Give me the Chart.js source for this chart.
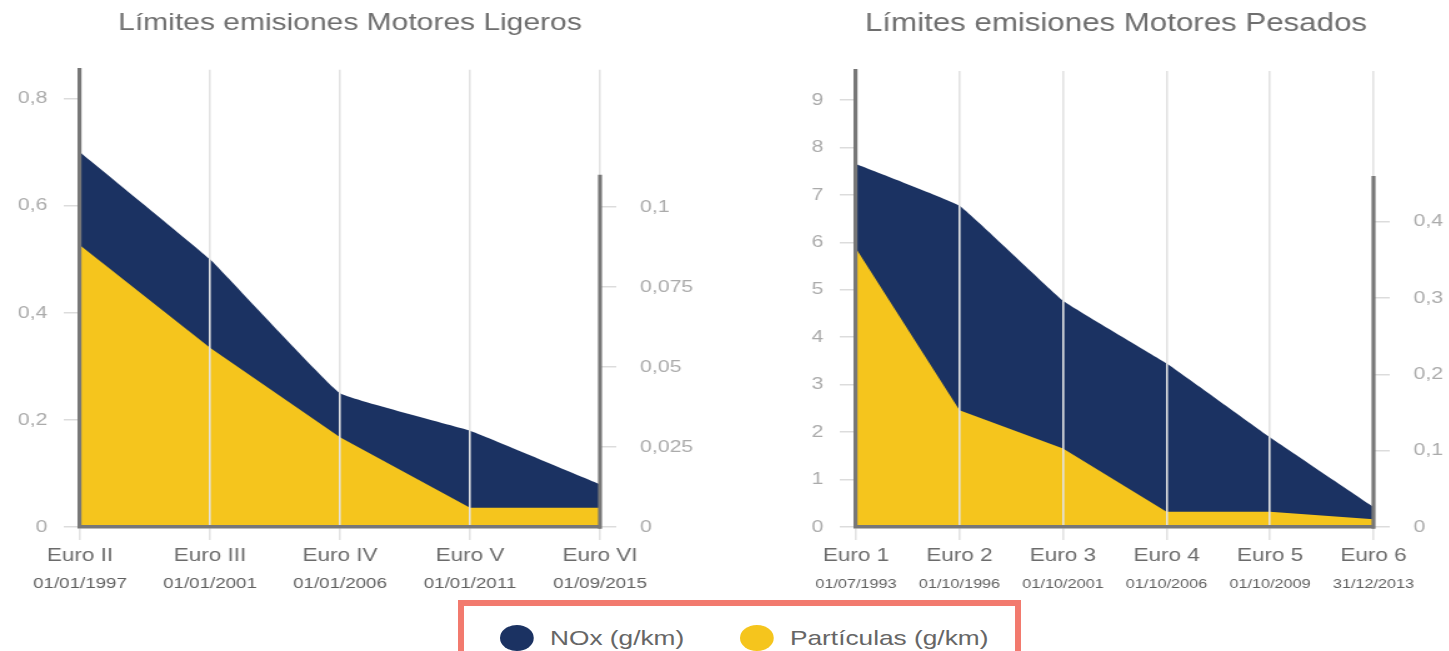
<!DOCTYPE html>
<html lang="es">
<head>
<meta charset="utf-8">
<title>Límites de emisiones</title>
<script src="https://cdn.jsdelivr.net/npm/chart.js@4.4.1/dist/chart.umd.min.js"></script>
<style>
  html, body { margin: 0; background: #fff; }
  body { position: relative; width: 1449px; height: 651px; overflow: hidden; font-family: "Liberation Sans", Arial, sans-serif; }
  canvas { position: absolute; top: 0; }
  .leyenda { position: absolute; left: 458px; top: 600px; width: 551px; height: 80px;
             border: 6px solid #f27a6e; border-bottom: none; }
  .item { position: absolute; top: 19px; display: flex; align-items: center; color: #666;
          font-size: 21px; white-space: nowrap; transform: scaleX(1.25); transform-origin: left center; }
  .punto { width: 27px; height: 26px; border-radius: 50%; margin-right: 13px; }
</style>
</head>
<body>
<!-- canvases are drawn narrow and widened by CSS (wide lettering) -->
<canvas id="ligeros" width="560" height="600" style="left:0;width:700px;height:600px"></canvas>
<canvas id="pesados" width="536" height="600" style="left:781px;width:670px;height:600px"></canvas>
<div class="leyenda">
  <div class="item" style="left:36px"><span class="punto" style="background:#1b3262"></span>NOx (g/km)</div>
  <div class="item" style="left:276px"><span class="punto" style="background:#f5c51d"></span>Partículas (g/km)</div>
</div>
<script>
// Turismos (motores ligeros)
const ligerosCats = ['Euro II', 'Euro III', 'Euro IV', 'Euro V', 'Euro VI'];
const ligerosFechas = ['01/01/1997', '01/01/2001', '01/01/2006', '01/01/2011', '01/09/2015'];
const ligerosNox = [0.70, 0.50, 0.25, 0.18, 0.08];
const ligerosParticulas = [0.088, 0.056, 0.028, 0.006, 0.006];

// Camiones (motores pesados)
const pesadosCats = ['Euro 1', 'Euro 2', 'Euro 3', 'Euro 4', 'Euro 5', 'Euro 6'];
const pesadosFechas = ['01/07/1993', '01/10/1996', '01/10/2001', '01/10/2006', '01/10/2009', '31/12/2013'];
const pesadosNox = [7.65, 6.77, 4.77, 3.45, 1.89, 0.42];
const pesadosParticulas = [0.365, 0.153, 0.103, 0.02, 0.02, 0.01];

const AZUL = '#1b3262';
const AMARILLO = '#f5c51d';
const EJE = '#777777';
const FUENTE = '"Liberation Sans", Arial, sans-serif';

function coma(v) {
    return String(+Number(v).toFixed(3)).replace('.', ',');
}

/*
 Right axis line (shorter than the chart area) and the dates under each label
*/
const extras = {
    id: 'extras',
    afterDraw(chart, args, opts) {
        const { ctx, chartArea, scales } = chart;
        ctx.save();
        ctx.strokeStyle = EJE;
        ctx.lineWidth = 3.2;
        ctx.beginPath();
        ctx.moveTo(chartArea.right, scales.y2.getPixelForValue(0) + 1.75);
        ctx.lineTo(chartArea.right, scales.y2.getPixelForValue(opts.tope));
        ctx.stroke();

        ctx.fillStyle = '#5f5f5f';
        ctx.font = opts.tamFecha + 'px ' + FUENTE;
        ctx.textAlign = 'center';
        ctx.textBaseline = 'alphabetic';
        opts.fechas.forEach((f, i) => {
            ctx.fillText(f, scales.x.getPixelForTick(i), chartArea.bottom + 61);
        });
        ctx.restore();
    }
};

function grafico(id, o) {
    const tickFont = { family: FUENTE, size: 17 };
    return new Chart(document.getElementById(id), {
        type: 'line',
        data: {
            labels: o.cats,
            datasets: [
                {
                    label: 'Partículas (g/km)',
                    data: o.particulas,
                    yAxisID: 'y2',
                    backgroundColor: AMARILLO,
                    borderColor: 'rgba(0,0,0,0)',
                    tension: 0,
                    fill: 'origin'
                },
                {
                    label: 'NOx (g/km)',
                    data: o.nox,
                    yAxisID: 'y',
                    backgroundColor: AZUL,
                    borderColor: 'rgba(0,0,0,0)',
                    tension: 0.08,
                    fill: 'origin'
                }
            ]
        },
        options: {
            responsive: false,
            animation: false,
            events: [],
            layout: { padding: 0 },
            elements: {
                point: { radius: 0 },
                line: { borderWidth: 0 }
            },
            plugins: {
                legend: { display: false },
                tooltip: { enabled: false },
                title: {
                    display: true,
                    text: o.titulo,
                    color: '#6e6e6e',
                    font: { family: FUENTE, size: o.tamTitulo, weight: 'normal' },
                    padding: { top: 9, bottom: 32 }
                },
                extras: { tope: o.tope, fechas: o.fechas, tamFecha: o.tamFecha }
            },
            scales: {
                x: {
                    grid: { color: '#e2e2e2', lineWidth: 1.6, tickLength: 13, z: 1 },
                    border: { color: EJE, width: 3.5, z: 2 },
                    ticks: {
                        color: '#6b6b6b',
                        padding: 5,
                        maxRotation: 0,
                        autoSkip: false,
                        font: { family: FUENTE, size: 18 }
                    },
                    afterFit: s => { s.height = 73; }
                },
                y: {
                    position: 'left',
                    min: 0,
                    max: o.maxIzq,
                    grid: { drawOnChartArea: false, tickLength: 13, tickColor: '#dcdcdc', lineWidth: 1.5 },
                    border: { color: EJE, width: 3.2, z: 2 },
                    ticks: {
                        stepSize: o.pasoIzq,
                        includeBounds: false,
                        color: '#ababab',
                        padding: 13,
                        font: tickFont,
                        callback: coma
                    },
                    afterFit: s => { s.width = o.anchoIzq; }
                },
                y2: {
                    position: 'right',
                    min: 0,
                    max: o.maxDer,
                    grid: { drawOnChartArea: false, tickLength: 13, tickColor: '#dcdcdc', lineWidth: 1.5 },
                    border: { display: false },
                    ticks: {
                        stepSize: o.pasoDer,
                        includeBounds: false,
                        color: '#ababab',
                        padding: 19,
                        font: tickFont,
                        callback: coma
                    },
                    afterBuildTicks: s => {
                        s.ticks = s.ticks.filter(t => t.value <= o.ultimoDer + 1e-9);
                    },
                    afterFit: s => { s.width = o.anchoDer; }
                }
            }
        },
        plugins: [extras]
    });
}

grafico('ligeros', {
    titulo: 'Límites emisiones Motores Ligeros',
    tamTitulo: 24,
    cats: ligerosCats,
    fechas: ligerosFechas,
    nox: ligerosNox,
    particulas: ligerosParticulas,
    maxIzq: 0.854, pasoIzq: 0.2,
    maxDer: 0.1428, pasoDer: 0.025, ultimoDer: 0.1,
    tope: 0.11,
    anchoIzq: 64, anchoDer: 80,
    tamFecha: 15
});

grafico('pesados', {
    titulo: 'Límites emisiones Motores Pesados',
    tamTitulo: 25,
    cats: pesadosCats,
    fechas: pesadosFechas,
    nox: pesadosNox,
    particulas: pesadosParticulas,
    maxIzq: 9.61, pasoIzq: 1,
    maxDer: 0.5974, pasoDer: 0.1, ultimoDer: 0.4,
    tope: 0.46,
    anchoIzq: 60, anchoDer: 62,
    tamFecha: 13
});
</script>
</body>
</html>
